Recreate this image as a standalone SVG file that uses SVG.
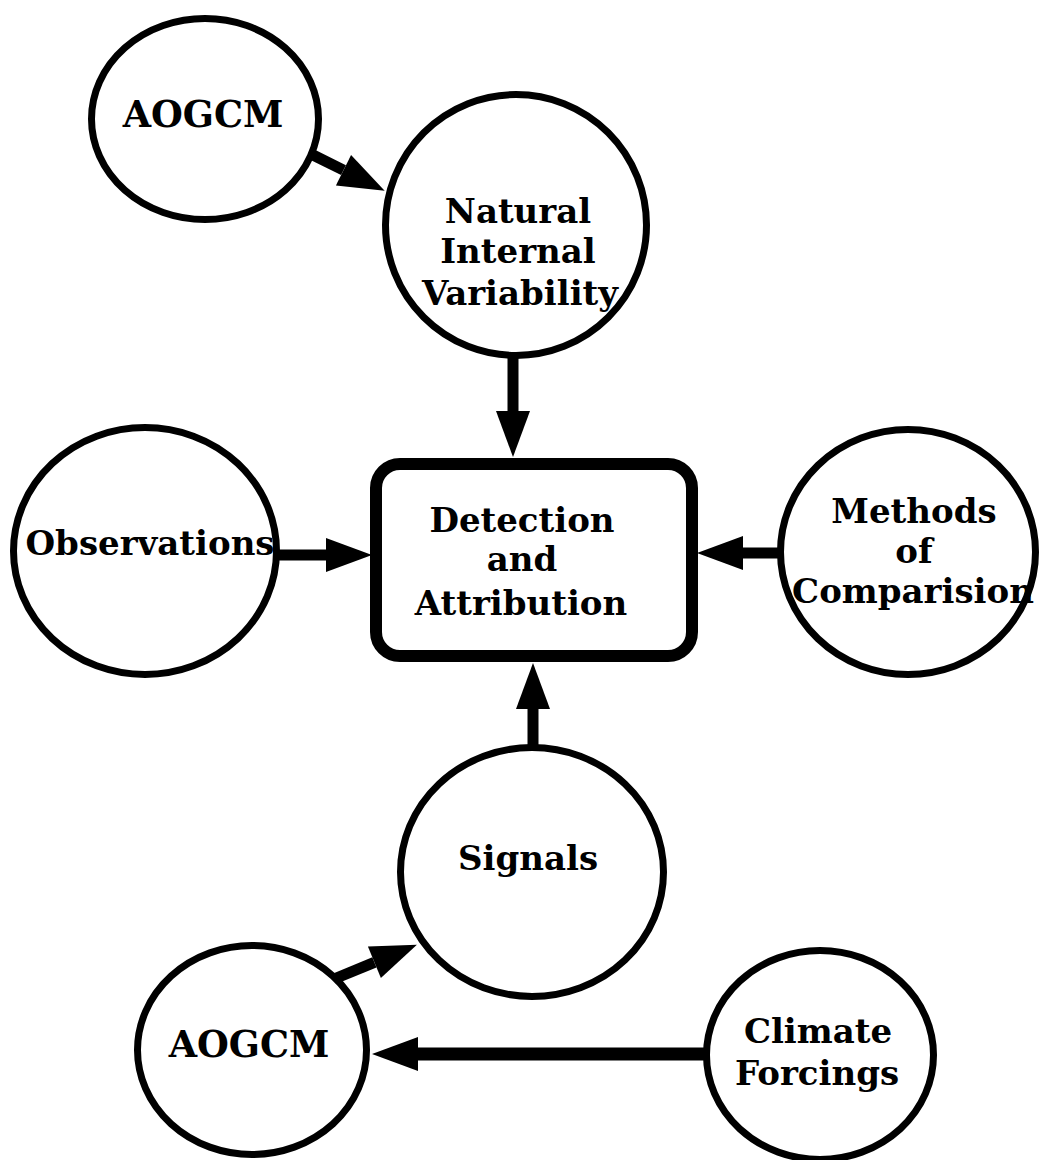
<svg xmlns="http://www.w3.org/2000/svg" width="1041" height="1160" viewBox="0 0 1041 1160">
<style>
.node{fill:#fff;stroke:#000;stroke-width:7}
.box{fill:#fff;stroke:#000;stroke-width:12}
.lbl{font-family:"DejaVu Serif","Liberation Serif",serif;font-weight:bold;font-size:34px;fill:#000;text-anchor:middle}
.big{font-size:36.5px}
.sh{stroke:#000;stroke-width:11;fill:none;marker-end:url(#ah)}
</style>
<defs>
<marker id="ah" markerUnits="userSpaceOnUse" viewBox="0 -18 48 36" refX="0" refY="0" markerWidth="48" markerHeight="36" orient="auto" overflow="visible">
<path d="M0,-17 L46,0 L0,17 Z" fill="#000"/>
</marker>
</defs>
<rect width="1041" height="1160" fill="#fff"/>
<g id="aogcm-top"><ellipse class="node" cx="205" cy="119" rx="113.5" ry="100.5"/><text class="lbl big" x="203" y="127">AOGCM</text></g>
<g id="natural"><ellipse class="node" cx="516" cy="225" rx="130.5" ry="130.5"/><text class="lbl" x="518" y="223">Natural</text><text class="lbl" x="518" y="263">Internal</text><text class="lbl" x="520" y="305">Variability</text></g>
<g id="detection"><rect class="box" x="376" y="464" width="316" height="192" rx="24"/><text class="lbl" x="522" y="532">Detection</text><text class="lbl" x="522" y="571">and</text><text class="lbl" x="521" y="615">Attribution</text></g>
<g id="observations"><ellipse class="node" cx="145" cy="551" rx="131.5" ry="123.5"/><text class="lbl" x="150" y="555">Observations</text></g>
<g id="methods"><ellipse class="node" cx="908" cy="552" rx="127.5" ry="122.5"/><text class="lbl" x="914" y="523">Methods</text><text class="lbl" x="914" y="563">of</text><text class="lbl" x="913" y="603">Comparision</text></g>
<g id="signals"><ellipse class="node" cx="532" cy="872" rx="131.5" ry="124.5"/><text class="lbl" x="528" y="870">Signals</text></g>
<g id="aogcm-bottom"><ellipse class="node" cx="252" cy="1050" rx="114.5" ry="104.5"/><text class="lbl big" x="249" y="1057">AOGCM</text></g>
<g id="climate"><ellipse class="node" cx="820" cy="1055" rx="113.5" ry="104.5"/><text class="lbl" x="818" y="1043">Climate</text><text class="lbl" x="817" y="1085">Forcings</text></g>
<g id="connectors">
<line class="sh" x1="313" y1="155" x2="343.5" y2="170.2"/>
<line class="sh" x1="513" y1="356" x2="513" y2="411"/>
<line class="sh" x1="277" y1="555" x2="326" y2="555"/>
<line class="sh" x1="780" y1="553" x2="743" y2="553"/>
<line class="sh" x1="533" y1="746" x2="533" y2="709"/>
<line class="sh" x1="334" y1="979" x2="374.4" y2="962.3"/>
<line class="sh" style="stroke-width:13" x1="705" y1="1054" x2="418" y2="1054"/>
</g>
</svg>
